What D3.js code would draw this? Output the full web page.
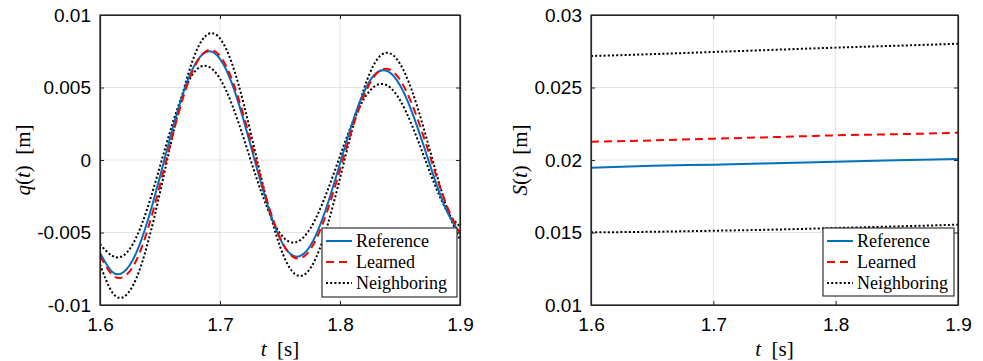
<!DOCTYPE html>
<html>
<head>
<meta charset="utf-8">
<script src="https://cdn.jsdelivr.net/npm/d3@7"></script>
<style>
  body { margin: 0; background: #fff; }
  svg { display: block; }
  .tick text { font-family: "Liberation Sans", Arial, sans-serif; font-size: 19px; fill: #000; }
</style>
</head>
<body>
<svg id="chart" width="983" height="361"></svg>
<script>
// time samples (s)
const tq = [1.60, 1.61, 1.62, 1.63, 1.64, 1.65, 1.66, 1.67, 1.68, 1.69, 1.70,
            1.71, 1.72, 1.73, 1.74, 1.75, 1.76, 1.77, 1.78, 1.79, 1.80,
            1.81, 1.82, 1.83, 1.84, 1.85, 1.86, 1.87, 1.88, 1.89, 1.90]

// q(t) [m]
const qReference = [-0.0064, -0.0077, -0.00771, -0.00644, -0.00412, -0.00114, 0.00201, 0.00479, 0.00672, 0.00749, 0.00698,
                    0.00527, 0.00266, -0.00035, -0.00321, -0.00542, -0.00656, -0.00645, -0.00516, -0.00295, -0.00024,
                    0.00248, 0.00469, 0.00598, 0.00611, 0.00515, 0.0033, 0.00091, -0.00158, -0.0037, -0.00505]
const qLearned = [-0.0066, -0.0079, -0.00804, -0.00697, -0.00473, -0.00172, 0.00154, 0.0045, 0.00663, 0.00757, 0.00718,
                  0.00554, 0.00298, -0.00006, -0.00302, -0.00535, -0.00663, -0.00665, -0.00548, -0.00337, -0.00067,
                  0.0021, 0.00443, 0.00592, 0.00628, 0.00553, 0.00385, 0.00153, -0.00103, -0.00335, -0.00503]
const qNeighborHi = [-0.0072, -0.0091, -0.00943, -0.00821, -0.00567, -0.00224, 0.00149, 0.00492, 0.00746, 0.00868, 0.00838,
                     0.00665, 0.00379, 0.00032, -0.00314, -0.00596, -0.00766, -0.00792, -0.00675, -0.00438, -0.00125,
                     0.00205, 0.00492, 0.00682, 0.00739, 0.00664, 0.00477, 0.00212, -0.00083, -0.00353, -0.0055]
const qNeighborLo = [-0.0058, -0.0066, -0.00656, -0.00538, -0.0032, -0.00043, 0.00239, 0.00475, 0.00619, 0.00645, 0.0056,
                     0.00382, 0.00143, -0.00114, -0.00343, -0.00505, -0.00569, -0.0053, -0.004, -0.00202, 0.00028,
                     0.00249, 0.00421, 0.00514, 0.00511, 0.00413, 0.00239, 0.00024, -0.00191, -0.00362, -0.00458]

// S(t) [m]
const tS = [1.60, 1.65, 1.70, 1.75, 1.80, 1.85, 1.90]
const sReference = [0.01947, 0.0196, 0.01968, 0.01978, 0.01988, 0.01998, 0.02007]
const sLearned = [0.02126, 0.02135, 0.02147, 0.02158, 0.0217, 0.02178, 0.02188]
const sNeighborHi = [0.02717, 0.0273, 0.02745, 0.0276, 0.02775, 0.02788, 0.02802]
const sNeighborLo = [0.01501, 0.01505, 0.01512, 0.0152, 0.01531, 0.01542, 0.01554]

const xTicks = [1.6, 1.7, 1.8, 1.9]
const qTicks = [-0.01, -0.005, 0, 0.005, 0.01]
const sTicks = [0.01, 0.015, 0.02, 0.025, 0.03]
const legendNames = ['Reference', 'Learned', 'Neighboring']

const styles = [
    { color: '#0072BD', dash: null, width: 2 },
    { color: '#FF0000', dash: '8,5', width: 2 },
    { color: '#000000', dash: '2,2.2', width: 2 },
    { color: '#000000', dash: '2,2.2', width: 2 },
]

const svg = d3.select('#chart')

function drawPanel(cfg) {
    const x = d3.scaleLinear().domain([1.6, 1.9]).range([cfg.left, cfg.right])
    const y = d3.scaleLinear().domain(d3.extent(cfg.yTicks)).range([cfg.bottom, cfg.top])
    const g = svg.append('g')

    // grid
    g.selectAll('line.gx').data(xTicks).join('line').attr('class', 'gx')
        .attr('x1', d => x(d)).attr('x2', d => x(d))
        .attr('y1', cfg.top).attr('y2', cfg.bottom)
        .attr('stroke', '#e3e3e3').attr('stroke-width', 1)
    g.selectAll('line.gy').data(cfg.yTicks).join('line').attr('class', 'gy')
        .attr('y1', d => y(d)).attr('y2', d => y(d))
        .attr('x1', cfg.left).attr('x2', cfg.right)
        .attr('stroke', '#e3e3e3').attr('stroke-width', 1)

    // curves
    const line = d3.line().x(d => x(d[0])).y(d => y(d[1])).curve(d3.curveNatural)
    const clip = 'clip-' + cfg.id
    svg.append('clipPath').attr('id', clip).append('rect')
        .attr('x', cfg.left).attr('y', cfg.top)
        .attr('width', cfg.right - cfg.left).attr('height', cfg.bottom - cfg.top)
    const cg = g.append('g').attr('clip-path', `url(#${clip})`)
    // neighbours first, then reference, learned on top
    const order = [2, 3, 0, 1]
    order.forEach(i => {
        const st = styles[i]
        cg.append('path')
            .datum(cfg.t.map((t, k) => [t, cfg.series[i][k]]))
            .attr('d', line)
            .attr('fill', 'none')
            .attr('stroke', st.color)
            .attr('stroke-width', st.width)
            .attr('stroke-dasharray', st.dash)
    })

    // axes, inward ticks on all four sides
    const tl = 4
    const fmt = d => d === 0 ? '0' : String(d)
    const ax = g.append('g').attr('transform', `translate(0,${cfg.bottom})`)
        .call(d3.axisBottom(x).tickValues(xTicks).tickSizeInner(-tl).tickSizeOuter(0).tickPadding(13).tickFormat(d => d.toFixed(1)))
    g.append('g').attr('transform', `translate(${cfg.left},0)`)
        .call(d3.axisLeft(y).tickValues(cfg.yTicks).tickSizeInner(-tl).tickSizeOuter(0).tickPadding(9).tickFormat(fmt))
    g.append('g').attr('transform', `translate(0,${cfg.top})`)
        .call(d3.axisTop(x).tickValues(xTicks).tickSizeInner(-tl).tickSizeOuter(0).tickFormat(''))
    g.append('g').attr('transform', `translate(${cfg.right},0)`)
        .call(d3.axisRight(y).tickValues(cfg.yTicks).tickSizeInner(-tl).tickSizeOuter(0).tickFormat(''))
    g.selectAll('.domain').attr('stroke', '#262626').attr('stroke-width', 1.2)
    g.selectAll('.tick line').attr('stroke', '#262626')
    ax.selectAll('.tick text').attr('dy', '0.71em')

    // box
    g.append('rect')
        .attr('x', cfg.left).attr('y', cfg.top)
        .attr('width', cfg.right - cfg.left).attr('height', cfg.bottom - cfg.top)
        .attr('fill', 'none').attr('stroke', '#262626').attr('stroke-width', 1.2)

    // axis labels
    const serif = '"Liberation Serif", "DejaVu Serif", serif'
    const xl = g.append('text')
        .attr('x', (cfg.left + cfg.right) / 2).attr('y', 356)
        .attr('text-anchor', 'middle').attr('xml:space', 'preserve')
        .style('font-family', serif).style('font-size', '21px')
    xl.append('tspan').style('font-style', 'italic').text('t')
    xl.append('tspan').text('  [s]')

    const yl = g.append('text')
        .attr('transform', `translate(${cfg.ylabelX},${(cfg.top + cfg.bottom) / 2}) rotate(-90)`)
        .attr('text-anchor', 'middle').attr('xml:space', 'preserve')
        .style('font-family', serif).style('font-size', '21px')
    yl.append('tspan').style('font-style', 'italic').text(cfg.ylabel)
    yl.append('tspan').text('(')
    yl.append('tspan').style('font-style', 'italic').text('t')
    yl.append('tspan').text(')  [m]')

    // legend
    const L = cfg.legend
    const lg = g.append('g')
    lg.append('rect')
        .attr('x', L.x).attr('y', L.y).attr('width', L.w).attr('height', L.h)
        .attr('fill', '#fff').attr('stroke', '#333').attr('stroke-width', 1.2)
    legendNames.forEach((name, i) => {
        const st = styles[i]
        const yy = L.y + 13 + i * 21
        lg.append('line')
            .attr('x1', L.x + 4).attr('x2', L.x + 30)
            .attr('y1', yy).attr('y2', yy)
            .attr('stroke', st.color).attr('stroke-width', st.width)
            .attr('stroke-dasharray', st.dash)
        lg.append('text')
            .attr('x', L.x + 34).attr('y', yy + 6)
            .style('font-family', serif).style('font-size', '18px')
            .text(name)
    })
}

drawPanel({
    id: 'q', left: 100, right: 460, top: 15, bottom: 305,
    yTicks: qTicks, ylabel: 'q', ylabelX: 30,
    t: tq, series: [qReference, qLearned, qNeighborHi, qNeighborLo],
    legend: { x: 322, y: 228, w: 135, h: 69 }
})
drawPanel({
    id: 's', left: 591, right: 958, top: 15, bottom: 305,
    yTicks: sTicks, ylabel: 'S', ylabelX: 527,
    t: tS, series: [sReference, sLearned, sNeighborHi, sNeighborLo],
    legend: { x: 823, y: 228, w: 131, h: 68 }
})
</script>
</body>
</html>
